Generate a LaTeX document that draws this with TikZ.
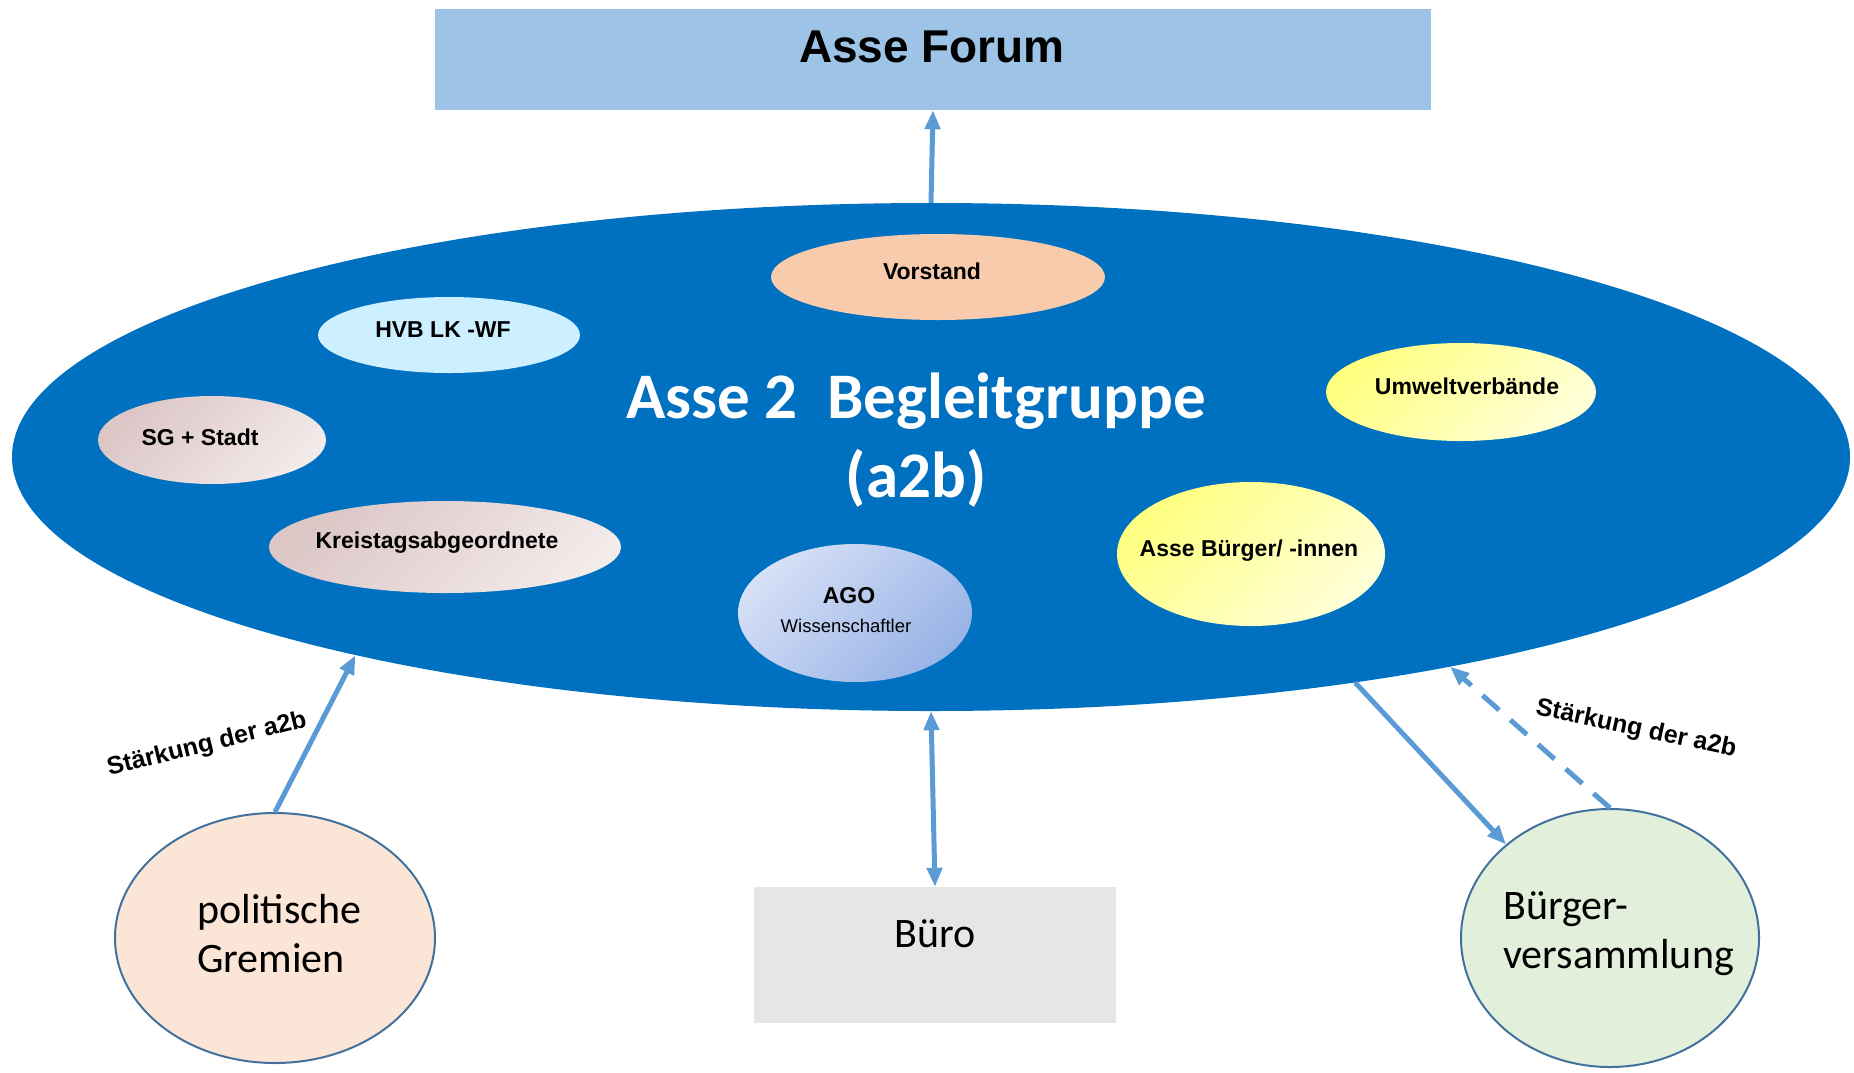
\documentclass[tikz,border=0pt]{standalone}
\usepackage{fontspec}
\setmainfont{Liberation Sans}
\newfontfamily\calibri{Carlito}
\usepackage{tikz}
\usetikzlibrary{shapes.geometric,arrows.meta}

\definecolor{a2bblue}{HTML}{0070C0}
\definecolor{forumblue}{HTML}{9DC3E6}
\definecolor{linkblue}{HTML}{5B9BD5}
\definecolor{rimblue}{HTML}{41719C}
\definecolor{vorstandfill}{HTML}{F8CBAD}
\definecolor{hvbfill}{HTML}{CCF0FF}
\definecolor{roseA}{HTML}{DCC6C6}
\definecolor{roseB}{HTML}{F3EAEA}
\definecolor{agoA}{HTML}{D6E0F6}
\definecolor{agoB}{HTML}{98B3E6}
\definecolor{yellowA}{HTML}{FFFF80}
\definecolor{yellowB}{HTML}{FFFFD8}
\definecolor{polfill}{HTML}{FBE5D6}
\definecolor{buerofill}{HTML}{E7E6E6}
\definecolor{bvfill}{HTML}{E2EFDA}

\begin{document}
\begin{tikzpicture}[x=1pt,y=-1pt]

\tikzset{
	bubble/.style={ellipse, draw=none, inner sep=0pt},
	rosebubble/.style={bubble, top color=roseA, bottom color=roseB, shading angle=45},
	yellowbubble/.style={bubble, top color=yellowA, bottom color=yellowB, shading angle=45},
	inlabel/.style={font=\fontsize{23}{27}\selectfont\bfseries, text=black, inner sep=0pt},
	biglabel/.style={font=\calibri\fontsize{42}{49}\selectfont, align=left, anchor=west, inner sep=0pt},
	strong/.style={font=\fontsize{25}{30}\selectfont\bfseries, inner sep=0pt},
	link/.style={draw=linkblue, line width=5pt, -{Triangle[length=19pt,width=15pt]}},
	outer/.style={ellipse, draw=rimblue, line width=2pt, inner sep=0pt}
}

\useasboundingbox (0,0) rectangle (1854,1072);

% top box
\node[rectangle, fill=forumblue, inner sep=0pt, minimum width=996pt, minimum height=101pt] (forum) at (933,59.5) {};
\node[font=\fontsize{46}{55}\selectfont\bfseries, inner sep=0pt] (forumtxt) at (932,47) {Asse Forum};

% the group
\node[bubble, fill=a2bblue, minimum width=1838pt, minimum height=508pt] (a2b) at (931,457) {};
\node[font=\calibri\fontsize{65}{79}\selectfont\bfseries, text=white, align=center, inner sep=0pt] (a2btxt) at (916,440) {Asse 2~~Begleitgruppe\\(a2b)};

% members
\node[bubble, fill=vorstandfill, minimum width=334pt, minimum height=86pt] (vorstand) at (938,277) {};
\node[inlabel] (vorstandtxt) at (932,271) {Vorstand};

\node[bubble, fill=hvbfill, minimum width=262pt, minimum height=76pt] (hvb) at (449,335) {};
\node[inlabel] (hvbtxt) at (443,330) {HVB LK -WF};

\node[rosebubble, minimum width=228pt, minimum height=88pt] (sg) at (212,440) {};
\node[inlabel] (sgtxt) at (200,437) {SG + Stadt};

\node[rosebubble, minimum width=352pt, minimum height=92pt] (kreistag) at (445,547) {};
\node[inlabel] (kreistagtxt) at (437,543) {Kreistagsabgeordnete};

\node[bubble, top color=agoA, bottom color=agoB, shading angle=45, minimum width=234pt, minimum height=138pt] (ago) at (855,613) {};
\node[inlabel] (agotxt) at (849,596) {AGO};
\node[font=\fontsize{18.5}{22}\selectfont, inner sep=0pt] (agosub) at (846,626) {Wissenschaftler};

\node[yellowbubble, minimum width=270pt, minimum height=98pt] (umwelt) at (1461,392) {};
\node[inlabel] (umwelttxt) at (1467,386) {Umweltverbände};

\node[yellowbubble, minimum width=268pt, minimum height=144pt] (buerger) at (1251,554) {};
\node[inlabel] (buergertxt) at (1249,551) {Asse Bürger/ -innen};

% outside
\node[outer, fill=polfill, minimum width=320pt, minimum height=250pt] (pol) at (275,938) {};
\node[biglabel] (poltxt) at (197,934) {politische\\Gremien};

\node[rectangle, fill=buerofill, inner sep=0pt, minimum width=362pt, minimum height=136pt] (buero) at (935,955) {};
\node[font=\calibri\fontsize{42}{49}\selectfont, inner sep=0pt] (buerotxt) at (935,934) {Büro};

\node[outer, fill=bvfill, minimum width=298pt, minimum height=258pt] (bv) at (1610,938) {};
\node[biglabel] (bvtxt) at (1503,934) {Bürger-\\versammlung};

% connectors
\draw[link] (a2b.north) -- (forum.south);
\draw[link] (pol.north) -- (a2b.199.4);
\draw[link, {Triangle[length=19pt,width=15pt]}-{Triangle[length=19pt,width=15pt]}] (a2b.south) -- (buero.north);
\draw[link] (a2b.332.5) -- (bv.138.4);
\draw[link, dash pattern=on 22pt off 15pt] (bv.north) -- (a2b.338.3);

\node[strong, rotate=14] (leftnote) at (207,745) {Stärkung der a2b};
\node[strong, rotate=-12] (rightnote) at (1636,729) {Stärkung der a2b};

\end{tikzpicture}
\end{document}
